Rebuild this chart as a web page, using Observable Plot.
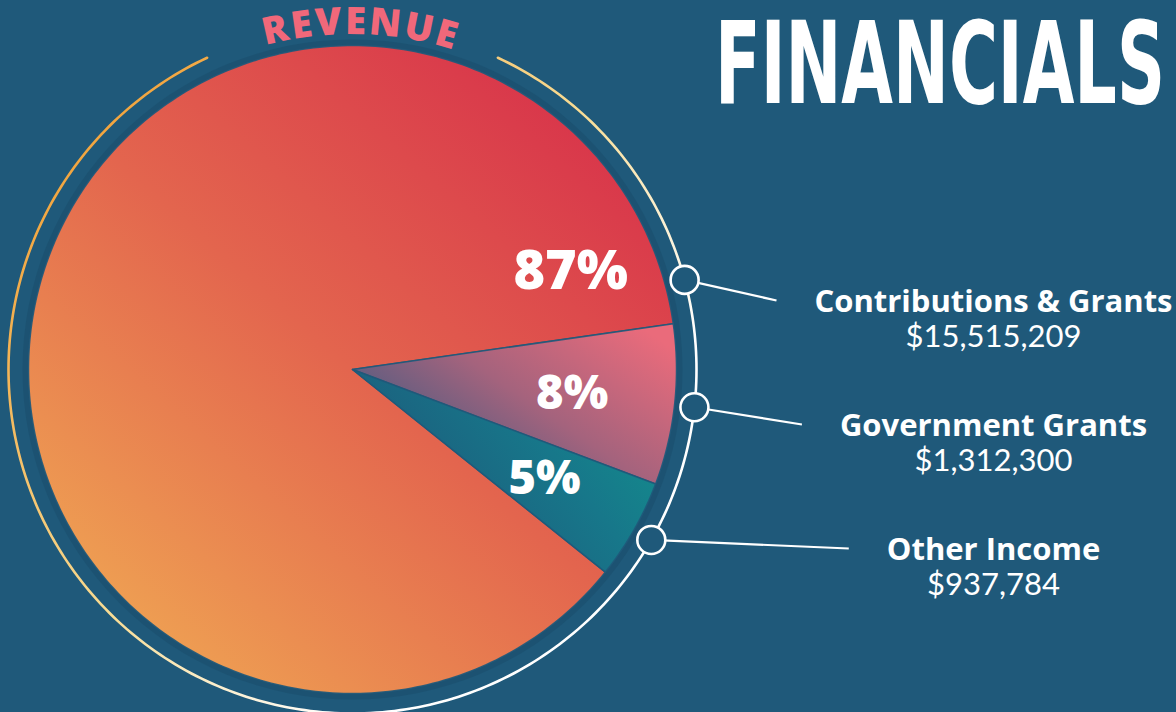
<!DOCTYPE html>
<html><head><meta charset="utf-8">
<script src="https://cdn.jsdelivr.net/npm/d3@7"></script>
<script src="https://cdn.jsdelivr.net/npm/@observablehq/plot@0.6"></script>
<style>
html,body{margin:0;padding:0;background:#1f597a;overflow:hidden;}
</style></head><body><div id="chart"></div>
<script>
// ---- data ----
const categories = ["Contributions & Grants", "Government Grants", "Other Income"];
const percents = [87, 8, 5];
const amounts = ["$15,515,209", "$1,312,300", "$937,784"];
const percentLabels = ["87%", "8%", "5%"];
const titleText = "FINANCIALS";
const arcTitle = "REVENUE";

// ---- layout constants ----
const W = 1176, H = 712;
const BG = "#1f597a";
const cx = 352, cy = 369, R = 324;
const startAngle = 128.7;          // degrees clockwise from 12 o'clock
const ringR = 344;
const labelX = 993, labelY0 = 300, labelStep = 124, lineGap = 35;
const NAME_FONT = "'Open Sans', 'Noto Sans', sans-serif";
const NAME_SIZE = 31;
const rad = d => d * Math.PI / 180;
const polar = (deg, r) => ({x: cx + r * Math.sin(rad(deg)), y: cy - r * Math.cos(rad(deg))});

// slices from percentages
let acc = startAngle;
const slices = percents.map((p, i) => {
  const a0 = acc, a1 = acc + p * 3.6; acc = a1;
  const n = Math.max(2, Math.ceil(a1 - a0));
  const pts = [{x: cx, y: cy}];
  for (let k = 0; k <= n; ++k) pts.push(polar(a0 + (a1 - a0) * k / n, R));
  const big = (a1 - a0) > 180;
  const mid = (a0 + a1) / 2;
  const markA = big ? a1 - 7 : mid;
  const textA = big ? a1 - 16 : mid;
  const textP = polar(textA, big ? 239 : 221);
  return {i, a0, a1, pts, mark: polar(markA, ringR), textP};
});

// measure label widths
const ctx = document.createElement("canvas").getContext("2d");
ctx.font = `700 ${NAME_SIZE}px 'Open Sans'`;
const rows = categories.map((c, i) => {
  const w = ctx.measureText(c).width;
  const y = labelY0 + i * labelStep;
  return {cat: c, amount: amounts[i], label: c + "\n" + amounts[i], y, ym: y + lineGap / 2, x: labelX,
          lx1: slices[i].mark.x, ly1: slices[i].mark.y, lx2: labelX - w / 2 - 38, ly2: y};
});

// outer decorative ring
const ringPts = [];
for (let a = 25; a <= 335; a += 1) ringPts.push(polar(a, ringR));

const marks = [
  Plot.dot([{x: cx, y: cy}], {x: "x", y: "y", r: R + 6, fill: "#1a4e6d", stroke: "none", fillOpacity: 0.6}),
  ...slices.map(s => Plot.line(s.pts, {x: "x", y: "y", curve: "linear-closed",
      fill: `url(#grad${s.i})`, stroke: BG, strokeWidth: 1.5, strokeOpacity: 0.9})),
  Plot.line(ringPts, {x: "x", y: "y", stroke: "url(#ringGrad)", strokeWidth: 2.6}),
  Plot.link(rows, {x1: "lx1", y1: "ly1", x2: "lx2", y2: "ly2", stroke: "white", strokeWidth: 2.2}),
  Plot.dot(slices.map(s => s.mark), {x: "x", y: "y", r: 14, fill: BG, stroke: "white", strokeWidth: 2.6}),
  Plot.text(slices.map((s, i) => ({...s.textP, t: percentLabels[i], big: i === 0})), {
    x: "x", y: "y", text: "t", fill: "white", fontFamily: NAME_FONT, fontWeight: 800,
    fontSize: d => d.big ? 54 : 47}),
  Plot.text(rows, {x: "x", y: "ym", text: "label", fill: "white", fontFamily: NAME_FONT,
    fontWeight: 700, fontSize: NAME_SIZE, lineHeight: lineGap / NAME_SIZE, lineAnchor: "middle",
    className: "cat-labels"})
];

const plot = Plot.plot({
  width: W, height: H, margin: 0,
  x: {domain: [0, W], range: [0, W], axis: null},
  y: {domain: [0, H], range: [0, H], axis: null},
  style: {background: BG, overflow: "visible"},
  marks
});

const svg = d3.select(plot);
// second line (amount) in a lighter face
svg.selectAll("g.cat-labels text").each(function() {
  const t = d3.select(this).selectAll("tspan");
  t.filter((d, i) => i === 1).attr("font-weight", 400).attr("font-family", "Lato");
});

const defs = svg.insert("defs", ":first-child");
function lin(id, attrs, stops) {
  const g = defs.append("linearGradient").attr("id", id);
  for (const k in attrs) g.attr(k, attrs[k]);
  stops.forEach(([o, c]) => g.append("stop").attr("offset", o).attr("stop-color", c));
}
lin("grad0", {x1: 0.1, y1: 0.95, x2: 0.9, y2: 0.05}, [[0, "#f0a853"], [0.5, "#e3654e"], [1, "#d72f4a"]]);
lin("grad1", {x1: 0.05, y1: 0.75, x2: 0.95, y2: 0.1}, [[0, "#3a5a82"], [0.5, "#a4637d"], [1, "#ea6b7b"]]);
lin("grad2", {x1: 0.15, y1: 0.7, x2: 1, y2: 0.25}, [[0, "#1d5a7b"], [0.6, "#17778a"], [1, "#138d8d"]]);
lin("ringGrad", {gradientUnits: "userSpaceOnUse", x1: 120, y1: 80, x2: 700, y2: 620},
  [[0, "#f2a23a"], [0.45, "#f8dc94"], [0.75, "#ffffff"], [1, "#ffffff"]]);

// title: condensed heavy lettering
svg.append("text")
  .attr("transform", "translate(940,103) scale(1,1.53)")
  .attr("text-anchor", "middle")
  .attr("font-family", "'DejaVu Sans Condensed', 'DejaVu Sans', sans-serif")
  .style("font-stretch", "condensed")
  .attr("font-weight", 700).attr("font-size", 75).attr("fill", "white")
  .attr("textLength", 450).attr("lengthAdjust", "spacingAndGlyphs")
  .text(titleText);

// curved "REVENUE" along an arc above the pie
const arcR = 335, c0 = 1.5;
const p0 = polar(c0 - 45, arcR), p1 = polar(c0 + 45, arcR);
defs.append("path").attr("id", "revArc")
  .attr("d", `M${p0.x},${p0.y} A${arcR},${arcR} 0 0 1 ${p1.x},${p1.y}`);
svg.append("text")
  .attr("font-family", NAME_FONT).attr("font-weight", 800).attr("font-size", 38)
  .attr("fill", "#f0687a").attr("letter-spacing", 2.5)
  .append("textPath").attr("href", "#revArc").attr("startOffset", "50%")
  .attr("text-anchor", "middle").text(arcTitle);

document.getElementById("chart").appendChild(plot);
</script></body></html>
